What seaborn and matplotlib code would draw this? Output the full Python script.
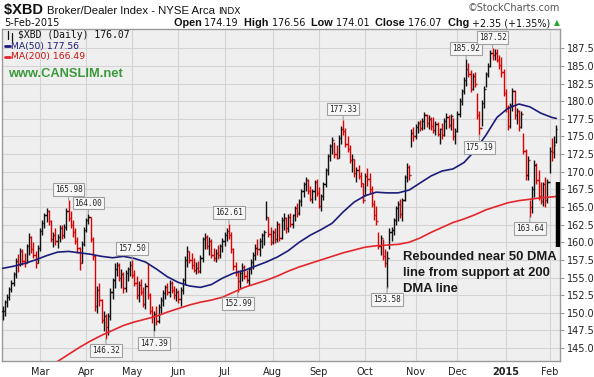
import numpy as np
import pandas as pd
import seaborn as sns
import matplotlib.pyplot as plt
from matplotlib.lines import Line2D
from matplotlib.offsetbox import TextArea, HPacker, AnnotationBbox

# trading days in the window (NYSE holidays removed)
holidays = ["2014-02-17", "2014-04-18", "2014-05-26", "2014-07-04", "2014-09-01",
            "2014-11-27", "2014-12-25", "2015-01-01", "2015-01-19"]
dates = pd.bdate_range("2014-02-05", "2015-02-05", freq="C", holidays=holidays)

# daily bars (approximate)
closes = [
    150.2, 151.5, 152.3, 153.3, 154.2, 155.5, 157.4, 156.9, 158.8, 157.4, 157.0, 159.4, 160.8, 159.0, 158.2, 157.0, 159.2, 161.6,
    162.8, 163.8, 164.4, 163.0, 160.5, 161.0, 160.2, 160.8, 162.0, 161.0, 162.2, 164.5, 163.5, 162.5, 161.5, 160.2, 159.2, 157.0, 159.8, 161.8, 163.2,
    163.6, 160.5, 158.0, 151.0, 153.2, 151.8, 149.0, 149.6, 148.0, 149.5, 153.0, 154.6, 156.2, 156.8, 155.0, 155.5, 153.5, 155.6, 156.2, 156.8, 155.4,
    154.2, 152.5, 154.0, 152.9, 151.2, 153.8, 152.5, 150.2, 149.5, 149.8, 148.8, 150.8, 151.8, 152.8, 153.6, 153.0, 154.2, 153.2, 152.5, 153.0, 152.0,
    153.2, 154.6, 157.5, 158.8, 157.5, 156.8, 156.0, 156.4, 155.9, 157.8, 160.4, 160.8, 159.5, 160.2, 158.2, 157.8, 158.5, 158.2, 159.4, 160.2,
    161.0, 161.6, 161.0, 159.0, 156.6, 155.8, 154.5, 155.6, 156.5, 155.2, 154.6, 156.2, 157.2, 158.2, 159.2, 159.0, 160.2, 161.0, 161.4, 163.6,
    161.2, 160.0, 161.4, 160.5, 162.6, 160.6, 163.2, 163.5, 162.0, 163.6, 162.6, 163.8, 164.8, 164.2, 165.9, 167.2, 168.3, 168.8, 167.2, 166.2,
    167.2, 168.5, 167.0, 165.2, 166.5, 168.2, 170.2, 172.2, 173.6, 174.5, 172.5, 172.0, 174.8, 176.0, 175.8, 174.0, 173.2, 171.6, 171.8, 169.8,
    170.2, 169.4, 168.4, 166.0, 169.4, 169.0, 167.5, 165.4, 163.8, 163.0, 159.5, 160.6, 158.0, 157.0, 157.8, 161.5, 161.8, 163.2, 164.8, 165.4,
    164.0, 166.0, 169.2, 170.6, 169.5, 175.5, 175.0, 176.4, 176.9, 176.2, 177.2, 178.0, 176.9, 177.5, 176.5, 175.9, 176.7, 175.4, 176.0, 175.2,
    177.2, 177.8, 176.6, 177.9, 175.0, 175.8, 178.2, 180.0, 181.4, 183.0, 184.6, 183.8, 181.8, 183.6, 182.4, 178.0, 176.2, 179.8, 181.8, 183.8,
    185.0, 186.9, 186.5, 186.8, 185.9, 185.2, 184.2, 181.2, 179.0, 176.5, 179.4, 181.4, 178.0, 178.6, 176.4, 178.2, 173.0, 169.5, 171.6, 165.0,
    167.6, 171.0, 168.8, 166.5, 165.8, 168.2, 166.0, 168.6, 173.0, 172.8, 173.72, 176.07,
]
highs = [
    151.0, 151.8, 152.6, 153.6, 154.6, 155.8, 157.8, 158.4, 159.2, 159.0, 158.5, 159.8, 161.3, 160.9, 160.0, 158.8, 159.6, 162.0,
    163.1, 164.2, 164.8, 164.6, 163.2, 161.4, 162.0, 161.2, 162.4, 162.5, 162.6, 164.8, 165.98, 164.5, 163.2, 162.0, 160.8, 159.3, 160.2, 162.2, 163.5,
    164.0, 163.6, 160.8, 158.2, 153.8, 154.2, 152.0, 150.2, 149.8, 150.0, 153.5, 155.0, 157.0, 157.2, 157.0, 156.2, 155.8, 156.0, 156.5, 157.3, 157.5,
    156.0, 155.2, 154.5, 154.8, 153.6, 154.2, 157.0, 152.8, 151.0, 150.2, 151.0, 151.2, 152.2, 153.2, 154.0, 154.2, 154.6, 154.5, 153.8, 153.5, 153.2,
    153.6, 155.0, 158.0, 159.5, 158.8, 158.5, 157.8, 157.2, 157.4, 158.2, 160.8, 161.3, 161.0, 160.8, 160.4, 159.2, 159.0, 159.6, 159.8, 160.6,
    161.4, 162.0, 162.61, 161.5, 159.2, 157.2, 156.0, 156.0, 157.0, 156.8, 156.0, 156.5, 157.6, 158.6, 159.8, 160.4, 160.6, 161.3, 161.8, 165.9,
    163.6, 162.2, 161.8, 162.0, 163.0, 162.8, 163.6, 164.1, 163.6, 164.0, 164.2, 164.0, 165.2, 165.5, 166.2, 167.5, 168.6, 169.2, 169.0, 168.0,
    167.5, 168.8, 169.0, 167.8, 166.8, 168.5, 170.5, 172.5, 174.0, 174.9, 174.2, 173.8, 175.2, 176.5, 177.33, 176.2, 175.0, 173.8, 172.5, 171.8,
    170.6, 171.0, 170.0, 168.4, 169.8, 170.5, 169.8, 168.0, 166.0, 165.2, 161.5, 161.0, 160.5, 159.0, 158.8, 162.0, 162.2, 163.5, 165.2, 165.8,
    166.2, 166.3, 169.6, 171.2, 171.0, 176.0, 176.4, 176.8, 177.2, 177.3, 177.6, 178.4, 178.2, 178.0, 177.8, 177.7, 177.2, 177.0, 176.2, 176.9,
    177.6, 178.3, 178.0, 178.2, 177.6, 176.2, 178.6, 180.4, 181.8, 183.5, 185.92, 185.4, 184.4, 184.0, 184.2, 181.1, 178.6, 180.2, 182.2, 184.2,
    185.4, 187.2, 187.52, 187.4, 187.4, 186.6, 186.2, 184.6, 181.8, 179.4, 179.8, 181.9, 181.6, 179.0, 178.8, 178.6, 175.5, 173.2, 172.3, 166.0,
    168.0, 171.6, 171.2, 170.2, 168.5, 168.6, 169.2, 169.0, 173.5, 174.8, 175.0, 176.56,
]
lows = [
    149.0, 149.5, 150.8, 151.8, 152.9, 153.8, 155.0, 155.8, 156.6, 156.8, 156.5, 157.0, 158.2, 158.5, 157.8, 156.3, 157.0, 158.8,
    161.0, 162.0, 162.9, 162.5, 160.0, 159.3, 159.6, 159.2, 160.0, 160.5, 160.6, 161.8, 163.0, 162.0, 160.8, 159.8, 158.5, 156.1, 157.0, 159.5, 161.5,
    162.6, 160.0, 157.5, 150.2, 149.9, 151.0, 148.5, 147.4, 146.32, 146.8, 149.0, 152.0, 153.5, 155.2, 154.5, 153.5, 152.8, 153.0, 154.5, 155.2, 155.0,
    153.8, 152.0, 151.5, 152.5, 150.8, 150.6, 152.0, 149.8, 148.5, 147.39, 148.2, 148.5, 150.0, 151.0, 152.0, 152.5, 152.2, 152.8, 152.0, 151.6, 151.4,
    151.0, 152.6, 154.0, 156.5, 157.0, 156.2, 155.8, 155.5, 155.6, 155.6, 157.2, 159.0, 159.0, 158.2, 157.8, 157.3, 157.2, 157.6, 157.8, 158.6,
    159.4, 160.2, 160.5, 158.5, 156.0, 155.2, 152.99, 153.5, 154.5, 154.8, 154.2, 154.0, 155.5, 156.2, 157.5, 158.2, 158.0, 159.2, 159.6, 163.2,
    160.8, 159.6, 159.8, 159.9, 160.0, 160.2, 160.4, 161.8, 161.3, 161.5, 162.2, 162.0, 163.0, 163.6, 163.8, 165.2, 166.4, 167.2, 166.8, 165.8,
    165.6, 166.0, 166.5, 164.8, 164.5, 166.0, 167.8, 169.5, 171.5, 172.5, 172.0, 171.8, 172.0, 174.0, 175.2, 173.5, 172.8, 171.2, 170.0, 169.2,
    168.5, 169.0, 167.8, 165.6, 166.5, 168.0, 167.0, 165.0, 163.2, 162.5, 159.0, 158.2, 157.5, 156.5, 153.58, 159.0, 160.2, 161.0, 162.4, 163.0,
    163.5, 163.0, 165.8, 168.6, 168.8, 173.5, 174.4, 174.6, 175.5, 175.8, 175.9, 176.0, 176.4, 176.0, 175.9, 175.5, 175.2, 175.0, 174.0, 174.6,
    175.0, 176.0, 176.2, 175.9, 174.5, 174.0, 175.6, 177.7, 179.4, 181.0, 182.2, 183.4, 181.3, 181.6, 182.0, 177.5, 175.19, 176.5, 179.0, 182.0,
    183.4, 184.8, 185.8, 185.8, 185.6, 184.6, 183.4, 180.8, 178.5, 175.9, 176.2, 178.6, 177.5, 176.8, 175.8, 176.2, 172.5, 168.8, 168.8, 163.64,
    164.2, 166.4, 168.2, 166.0, 165.4, 165.2, 165.0, 165.6, 169.8, 171.5, 172.0, 174.01,
]
last_open = 174.19

# moving averages sampled along the chart (trading day number, value)
ma50_day = [0, 5, 10, 15, 20, 25, 30, 35, 40, 45, 50, 55, 60, 65, 70, 75, 80, 85, 90, 95, 100, 105,
            110, 115, 120, 125, 130, 135, 140, 145, 150, 155, 160, 165, 170, 175, 180, 185, 190, 195,
            200, 205, 210, 215, 220, 225, 230, 235, 240, 245, 250, 252]
ma50 = [156.3, 156.6, 157.0, 157.5, 158.1, 158.6, 158.7, 158.5, 158.3, 158.0, 157.8, 158.0, 157.7, 157.2,
        156.2, 155.1, 154.3, 153.8, 153.6, 154.0, 154.9, 155.6, 156.0, 156.6, 157.2, 157.9, 158.8, 160.0,
        161.0, 161.8, 162.7, 164.3, 165.7, 166.6, 167.1, 167.0, 167.0, 167.4, 168.4, 169.4, 170.1, 170.4,
        171.3, 173.0, 175.2, 177.7, 179.0, 179.6, 179.2, 178.3, 177.7, 177.56]
ma200_day = [20, 25, 30, 35, 40, 45, 50, 55, 60, 65, 70, 75, 80, 85, 90, 95, 100, 105, 110, 115, 120,
             125, 130, 135, 140, 145, 150, 155, 160, 165, 170, 175, 180, 185, 190, 195, 200, 205, 210,
             215, 220, 225, 230, 235, 240, 245, 252]
ma200 = [142.2, 143.1, 144.1, 145.1, 146.0, 146.8, 147.5, 148.2, 148.7, 149.1, 149.5, 150.1, 150.6, 151.1,
         151.5, 151.8, 152.2, 152.9, 153.6, 154.1, 154.6, 155.2, 155.9, 156.5, 157.0, 157.5, 158.0, 158.5,
         158.9, 159.3, 159.5, 159.6, 159.7, 160.0, 160.6, 161.4, 162.1, 162.8, 163.3, 163.9, 164.6, 165.1,
         165.6, 165.9, 166.1, 166.3, 166.49]

peak_labels = [165.98, 164.00, 157.50, 162.61, 177.33, 185.92, 187.52]
trough_labels = [146.32, 147.39, 152.99, 153.58, 175.19, 163.64]

note = "Rebounded near 50 DMA\nline from support at 200\nDMA line"

# ---- style
sns.set_theme(style="whitegrid")
plt.rcParams["font.family"] = ["DejaVu Sans"]

W, H = 594, 377
fx = lambda px: px / W
fy = lambda py: 1 - py / H

fig = plt.figure(figsize=(W / 100, H / 100), dpi=100)
fig.patch.set_facecolor("white")
ax = fig.add_axes([fx(2), fy(361), 558 / W, 332 / H])
ax.set_facecolor("#efefef")

x = np.arange(len(closes))
opens = [closes[0]] + closes[:-2] + [last_open]
up_col, dn_col = "#111111", "#dd0000"
cols = [up_col] + [up_col if closes[i] >= closes[i - 1] else dn_col for i in range(1, len(closes))]

ax.vlines(x, lows, highs, colors=cols, lw=1.0, zorder=3)
ax.hlines(opens, x - 0.55, x, colors=cols, lw=1.0, zorder=3)
ax.hlines(closes, x, x + 0.55, colors=cols, lw=1.0, zorder=3)

sns.lineplot(x=ma50_day, y=ma50, ax=ax, color="#1c1c7a", lw=1.2, zorder=4)
sns.lineplot(x=ma200_day, y=ma200, ax=ax, color="#e3262b", lw=1.2, zorder=4)

ax.set_xlim(-0.3, 253.7)
ax.set_ylim(143.16, 190.24)

# grid / ticks
yt = np.arange(145, 188, 2.5)
ax.set_yticks(yt)
ax.set_yticklabels([f"{v:.1f}" for v in yt])
ax.yaxis.tick_right()
ax.tick_params(axis="y", length=3, width=0.8, color="#999999", pad=2, labelsize=7, labelcolor="#222222")

d = pd.Series(dates)
month_pos = [i for i in range(1, len(d)) if d[i].month != d[i - 1].month]
month_lab = ["2015" if d[i].month == 1 else d[i].strftime("%b") for i in month_pos]
ax.set_xticks(month_pos)
ax.set_xticklabels(month_lab)
ax.tick_params(axis="x", length=0, pad=4, labelsize=7, labelcolor="#222222")
for t in ax.get_xticklabels():
    if t.get_text() == "2015":
        t.set_fontweight("bold")

ax.grid(True, color="#d4d4d4", lw=0.8)
for s in ax.spines.values():
    s.set_color("#9a9a9a")
    s.set_linewidth(1.0)
ax.set_xlabel("")
ax.set_ylabel("")

# value labels on swing points
box = dict(boxstyle="square,pad=0.25", fc="#f7f7f7", ec="#a0a0a0", lw=0.8)
for v in peak_labels:
    i = highs.index(v)
    ax.annotate(f"{v:.2f}", (i, v), xytext=(0, 11), textcoords="offset pixels",
                ha="center", va="center", fontsize=5.6, family="DejaVu Sans Mono", bbox=box,
                arrowprops=dict(arrowstyle="-", color="#a0a0a0", lw=0.8, shrinkA=0, shrinkB=0), zorder=6)
for v in trough_labels:
    i = lows.index(v)
    ax.annotate(f"{v:.2f}", (i, v), xytext=(0, -12), textcoords="offset pixels",
                ha="center", va="center", fontsize=5.6, family="DejaVu Sans Mono", bbox=box,
                arrowprops=dict(arrowstyle="-", color="#a0a0a0", lw=0.8, shrinkA=0, shrinkB=0), zorder=6)

# note and marker bar
fig.text(fx(403), fy(251), note, ha="left", va="top", fontsize=9.4, fontweight="bold",
         family="Liberation Sans", color="#1a1a1a", linespacing=1.42)
ax.vlines(252.6, 159.3, 168.5, colors="black", lw=3.2, zorder=5)

# header line 1
def hbox(parts, xy, align):
    kids = [TextArea(t, textprops=p) for t, p in parts]
    pack = HPacker(children=kids, align="baseline", pad=0, sep=0)
    ab = AnnotationBbox(pack, xy, xycoords="figure fraction", box_alignment=align,
                        frameon=False, pad=0)
    fig.add_artist(ab)

hbox([("$XBD ", dict(fontsize=10.5, fontweight="bold", family="Liberation Sans", color="#111111")),
      ("Broker/Dealer Index - NYSE Arca ", dict(fontsize=8.2, family="Liberation Sans", color="#111111")),
      ("INDX", dict(fontsize=6.5, family="DejaVu Sans", color="#111111"))],
     (fx(4), fy(10)), (0, 0.5))
fig.text(fx(560), fy(8), "\u00a9StockCharts.com", ha="right", va="center", fontsize=7, color="#555555")

# header line 2
fig.text(fx(4), fy(23), dates[-1].strftime("%-d-%b-%Y"), ha="left", va="center", fontsize=7, color="#111111")
chg = closes[-1] - closes[-2]
pct = chg / closes[-2] * 100
lb = dict(fontsize=7.8, fontweight="bold", family="Liberation Sans", color="#111111")
vl = dict(fontsize=6.9, family="DejaVu Sans", color="#111111")
hbox([("Open ", lb), (f"{last_open:.2f}  ", vl), ("High ", lb), (f"{highs[-1]:.2f}  ", vl),
      ("Low ", lb), (f"{lows[-1]:.2f}  ", vl), ("Close ", lb), (f"{closes[-1]:.2f}  ", vl),
      ("Chg ", lb), (f"+{chg:.2f} (+{pct:.2f}%)", vl)],
     (fx(550), fy(23)), (1, 0.5))
fig.text(fx(557), fy(23), "\u25b2", ha="center", va="center", fontsize=5.5, color="#22aa22")

# in-chart legend
fig.add_artist(Line2D([fx(8), fx(8)], [fy(31), fy(39)], color="#111111", lw=0.9, transform=fig.transFigure))
fig.add_artist(Line2D([fx(12), fx(12)], [fy(33), fy(41)], color="#111111", lw=0.9, transform=fig.transFigure))
fig.text(fx(18), fy(35), f"$XBD (Daily) {closes[-1]:.2f}", ha="left", va="center", fontsize=7,
         family="DejaVu Sans Mono", color="#111111")
fig.add_artist(Line2D([fx(5), fx(10)], [fy(46), fy(46)], color="#1c1c7a", lw=2, transform=fig.transFigure))
fig.text(fx(11), fy(46), f"MA(50) {ma50[-1]:.2f}", ha="left", va="center", fontsize=6.7, color="#1c1c7a")
fig.add_artist(Line2D([fx(5), fx(10)], [fy(57), fy(57)], color="#e3262b", lw=2, transform=fig.transFigure))
fig.text(fx(11), fy(57), f"MA(200) {ma200[-1]:.2f}", ha="left", va="center", fontsize=6.7, color="#cc1111")
fig.text(fx(8), fy(74), "www.CANSLIM.net", ha="left", va="center", fontsize=9.3, fontweight="bold",
         family="Liberation Sans", color="#3a9a3a")

fig.savefig("out.png", dpi=100)
